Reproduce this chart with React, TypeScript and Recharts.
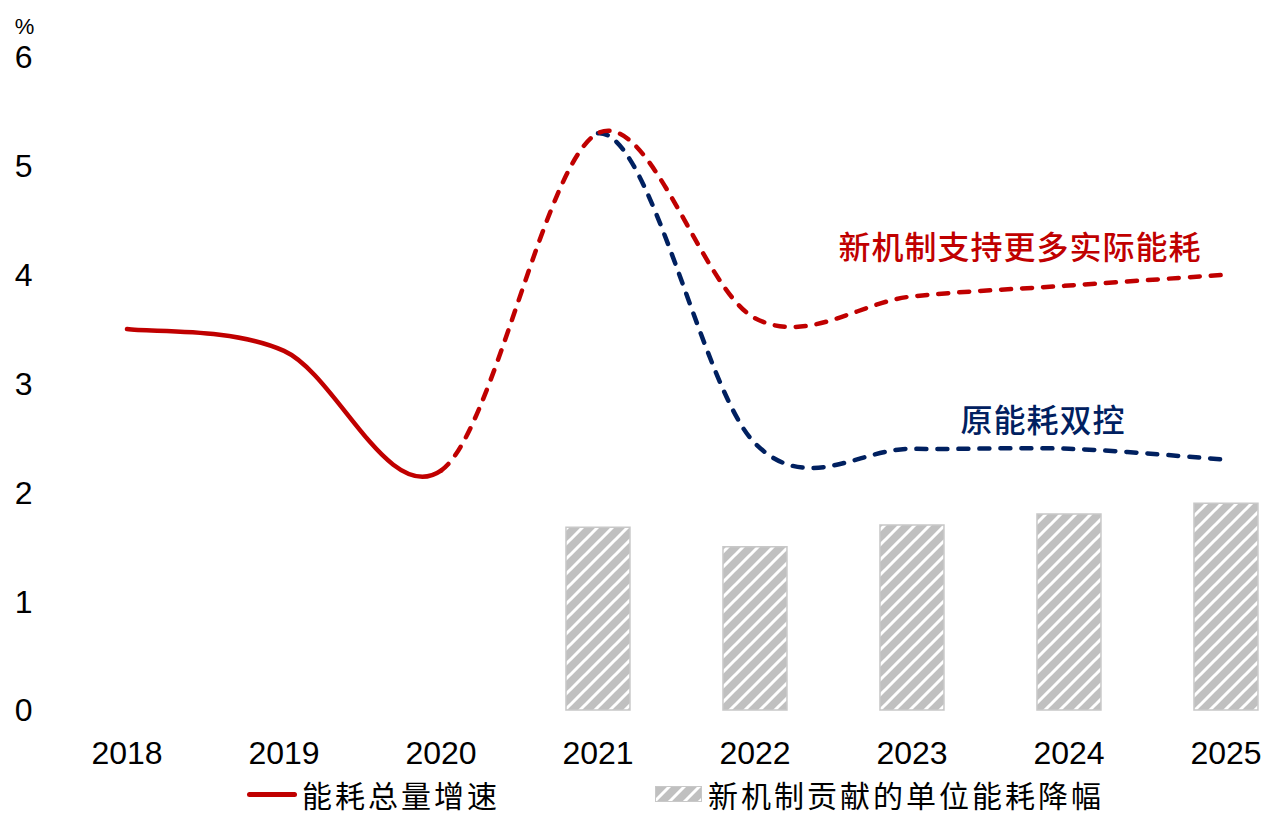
import React from "react";
import {
  ComposedChart,
  Bar,
  Line,
  XAxis,
  YAxis,
  Label,
  ReferenceDot,
} from "recharts";

const years = ["2018", "2019", "2020", "2021", "2022", "2023", "2024", "2025"];
// 能耗总量增速 (solid to 2020, then the new-mechanism path dashed)
const newMechanism = [3.5, 3.3, 2.2, 5.3, 3.6, 3.8, 3.9, 4.0];
// 原能耗双控 path, shares the history up to 2021
const oldControl = [3.5, 3.3, 2.2, 5.3, 2.45, 2.4, 2.4, 2.3];
// 新机制贡献的单位能耗降幅
const unitDrop = [null, null, null, 1.68, 1.5, 1.7, 1.8, 1.9];
const yTicks = [0, 1, 2, 3, 4, 5, 6];

const data = years.map((year, i) => ({
  year,
  total: newMechanism[i],
  old: oldControl[i],
  drop: unitDrop[i],
}));

const RED = "#C00000";
const BLUE = "#002060";
const GREY = "#C0C0C0";
const LATIN = "'Liberation Sans', Arial, sans-serif";
const CJK = "'Noto Sans CJK SC', 'Noto Sans', sans-serif";

// Excel-style smoothed line (Catmull-Rom), only drawing segments [from, to)
const smoothSegments = (from: number, to: number) => (context: any) => {
  let pts: number[][] = [];
  return {
    areaStart() {},
    areaEnd() {},
    lineStart() {
      pts = [];
    },
    point(x: number, y: number) {
      pts.push([+x, +y]);
    },
    lineEnd() {
      const n = pts.length;
      const last = Math.min(to, n - 1);
      for (let i = from; i < last; i++) {
        const p0 = pts[Math.max(i - 1, 0)];
        const p1 = pts[i];
        const p2 = pts[i + 1];
        const p3 = pts[Math.min(i + 2, n - 1)];
        if (i === from) context.moveTo(p1[0], p1[1]);
        context.bezierCurveTo(
          p1[0] + (p2[0] - p0[0]) / 6,
          p1[1] + (p2[1] - p0[1]) / 6,
          p2[0] - (p3[0] - p1[0]) / 6,
          p2[1] - (p3[1] - p1[1]) / 6,
          p2[0],
          p2[1]
        );
      }
    },
  };
};

const note = (text: string, color: string, dx: number) => (props: any) => {
  const vb = props.viewBox || {};
  const x = (vb.x || 0) + (vb.width || 0) / 2 + dx;
  const y = (vb.y || 0) + (vb.height || 0) / 2;
  return (
    <text
      x={x}
      y={y}
      textAnchor="middle"
      dominantBaseline="central"
      fill={color}
      fontFamily={CJK}
      fontSize={32}
      fontWeight={500}
      letterSpacing={1}
    >
      {text}
    </text>
  );
};

const HatchDefs = ({ id }: { id: string }) => (
  <defs>
    <pattern id={id} width={15} height={15} patternUnits="userSpaceOnUse">
      <rect width={15} height={15} fill={GREY} />
      <path
        d="M0,15 L15,0 M-3,3 L3,-3 M12,18 L18,12"
        stroke="#fff"
        strokeWidth={3}
      />
    </pattern>
  </defs>
);

const legendText: React.CSSProperties = {
  fontFamily: CJK,
  fontSize: 30,
  letterSpacing: 3,
  color: "#000",
  lineHeight: "30px",
  whiteSpace: "nowrap",
};

export default function App() {
  return (
    <div
      style={{
        position: "absolute",
        left: 0,
        top: 0,
        width: 1264,
        height: 816,
        overflow: "hidden",
        background: "#fff",
      }}
    >
      <ComposedChart
        width={1305}
        height={816}
        data={data}
        margin={{ top: 57, right: 0.5, bottom: 56, left: 0.5 }}
        barCategoryGap="29.6%"
      >
        <HatchDefs id="hatch" />
        <XAxis
          dataKey="year"
          axisLine={false}
          tickLine={false}
          tickSize={0}
          tickMargin={31}
          height={50}
          interval={0}
          tick={{ fontFamily: LATIN, fontSize: 32, fill: "#000" }}
        />
        <YAxis
          domain={[0, 6]}
          ticks={yTicks}
          width={48}
          axisLine={false}
          tickLine={false}
          tickSize={0}
          tickMargin={16}
          tick={{ fontFamily: LATIN, fontSize: 32, fill: "#000" }}
        >
          <Label
            value="%"
            position="top"
            offset={23}
            style={{ fontFamily: LATIN, fontSize: 22, fill: "#000" }}
          />
        </YAxis>
        <Bar
          dataKey="drop"
          fill="url(#hatch)"
          stroke="#C8C8C8"
          strokeWidth={1.5}
          isAnimationActive={false}
        />
        <Line
          dataKey="old"
          type={smoothSegments(3, 7) as any}
          stroke={BLUE}
          strokeWidth={4.5}
          strokeDasharray="10 11"
          strokeLinecap="round"
          dot={false}
          activeDot={false}
          isAnimationActive={false}
        />
        <Line
          dataKey="total"
          type={smoothSegments(2, 7) as any}
          stroke={RED}
          strokeWidth={4.5}
          strokeDasharray="10 11"
          strokeLinecap="round"
          dot={false}
          activeDot={false}
          isAnimationActive={false}
        />
        <Line
          dataKey="total"
          type={smoothSegments(0, 2) as any}
          stroke={RED}
          strokeWidth={4.5}
          strokeLinecap="round"
          dot={false}
          activeDot={false}
          isAnimationActive={false}
        />
        <ReferenceDot
          x="2024"
          y={4.27}
          r={1}
          fill="none"
          stroke="none"
          label={note("新机制支持更多实际能耗", RED, -49)}
        />
        <ReferenceDot
          x="2024"
          y={2.68}
          r={1}
          fill="none"
          stroke="none"
          label={note("原能耗双控", BLUE, -26)}
        />
      </ComposedChart>

      <div
        style={{
          position: "absolute",
          left: 247,
          top: 779,
          display: "flex",
          alignItems: "center",
        }}
      >
        <div
          style={{
            width: 50,
            height: 5,
            borderRadius: 3,
            background: RED,
            marginRight: 5,
          }}
        />
        <span style={legendText}>能耗总量增速</span>
      </div>
      <div
        style={{
          position: "absolute",
          left: 655,
          top: 779,
          display: "flex",
          alignItems: "center",
        }}
      >
        <svg width={47} height={16} style={{ marginRight: 6 }}>
          <HatchDefs id="hatchLegend" />
          <rect
            x={0.5}
            y={0.5}
            width={46}
            height={15}
            fill="url(#hatchLegend)"
            stroke="#C8C8C8"
          />
        </svg>
        <span style={legendText}>新机制贡献的单位能耗降幅</span>
      </div>
    </div>
  );
}
